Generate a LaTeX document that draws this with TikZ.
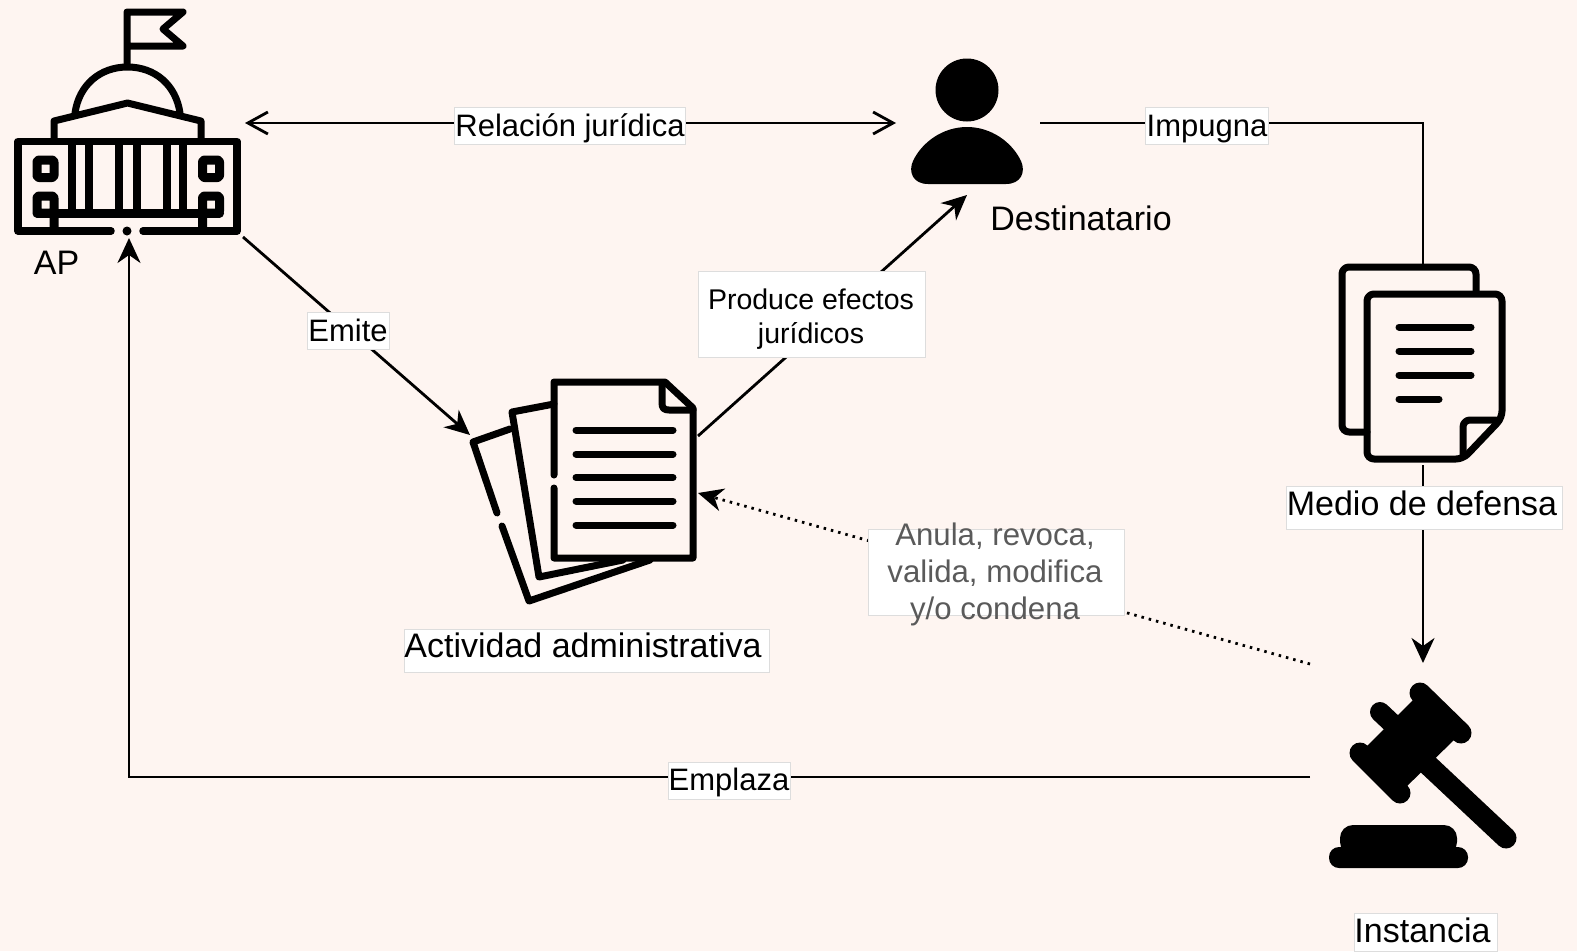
\documentclass[tikz,border=0pt]{standalone}
\usepackage{fontspec}
\setmainfont{Liberation Sans}
\usetikzlibrary{arrows.meta}
\definecolor{pagebg}{HTML}{FEF5F1}
\definecolor{boxedge}{HTML}{DDDDDD}
\definecolor{softtext}{HTML}{5A5A5A}
\tikzset{
  iconline/.style={line width=7pt, line cap=round, line join=round},
  squareline/.style={line width=9pt, line join=round, rounded corners=2pt},
  conn/.style={line width=2.8pt},
  head/.style={-{Stealth[length=25pt,width=23pt,inset=8pt]}},
  openhead/.style={{Straight Barb[length=20pt,width=22pt]}-{Straight Barb[length=20pt,width=22pt]}},
  plainlabel/.style={inner sep=0pt, font=\fontsize{31}{37}\selectfont},
  biglabel/.style={inner sep=0pt, font=\fontsize{34}{40}\selectfont},
  boxlabel/.style={plainlabel, fill=white, draw=boxedge, line width=0.8pt, align=center},
  textline/.style={text depth=8pt, text height=#1}
}
\begin{document}
\begin{tikzpicture}[x=1pt, y=-1pt]
  \useasboundingbox (0, 0) rectangle (1577, 951);
  \fill [pagebg] (0, 0) rectangle (1577, 951);

  \coordinate (apRight) at (245, 123);
  \coordinate (apLow) at (243, 237);
  \coordinate (apBottom) at (129, 238);
  \coordinate (userLeft) at (896, 123);
  \coordinate (userRight) at (1040, 123);
  \coordinate (userBottom) at (967, 195);
  \coordinate (actLeft) at (470, 435);
  \coordinate (actRight) at (698, 436);
  \coordinate (actDots) at (698, 493);
  \coordinate (medioTop) at (1423, 266);
  \coordinate (medioBottom) at (1423, 465);
  \coordinate (instTop) at (1423, 663);
  \coordinate (instLeft) at (1310, 777);
  \coordinate (instDots) at (1310, 664);
  \coordinate (impugnaBend) at (1423, 123);
  \coordinate (emplazaBend) at (129, 777);

  \draw [conn, openhead] (apRight) -- (userLeft);
  \draw [conn, head] (apLow) -- (actLeft);
  \draw [conn, head] (actRight) -- (userBottom);
  \draw [conn] (userRight) -- (impugnaBend) -- (medioTop);
  \draw [conn, head] (medioBottom) -- (instTop);
  \draw [conn, head] (instLeft) -- (emplazaBend) -- (apBottom);
  \draw [conn, head, dash pattern=on 2.5pt off 5pt] (instDots) -- (actDots);

  \node [boxlabel, textline=28pt, minimum width=231pt, minimum height=37pt] (relacion) at (570, 126) {Relación jurídica};
  \node [boxlabel, textline=29pt, minimum width=82pt, minimum height=37pt] (emite) at (348, 331) {Emite};
  \node [boxlabel, minimum width=227pt, minimum height=86pt] (produceBox) at (811.5, 314) {};
  \node [inner sep=0pt, align=center, font=\fontsize{28.5}{34}\selectfont] (produce) at (811, 319) {Produce efectos\\jurídicos};
  \node [boxlabel, textline=28pt, minimum width=123pt, minimum height=37pt] (impugna) at (1207, 126) {Impugna};
  \node [boxlabel, biglabel, textline=23pt, minimum width=276pt, minimum height=43pt] (medio) at (1424, 507.5) {\hspace*{-4pt}Medio de defensa};
  \node [boxlabel, minimum width=256pt, minimum height=86pt] (anulaBox) at (996, 572) {};
  \node [inner sep=0pt, align=center, text=softtext, font=\fontsize{31.2}{36.6}\selectfont] (anula) at (995, 574.5) {Anula, revoca,\\valida, modifica\\y/o condena};
  \node [boxlabel, textline=28pt, minimum width=122pt, minimum height=37pt] (emplaza) at (729, 780.5) {Emplaza};
  \node [boxlabel, biglabel, textline=21pt, minimum width=365pt, minimum height=43pt] (actividad) at (586.5, 650.5) {\hspace*{-7pt}Actividad administrativa};
  \node [boxlabel, biglabel, textline=28pt, minimum width=143pt, minimum height=38pt] (instancia) at (1425.5, 932) {\hspace*{-6pt}Instancia};
  \node [biglabel] (ap) at (56.5, 263) {AP};
  \node [biglabel] (destinatario) at (1081, 218) {Destinatario};

  \draw [iconline, line width=7.5pt] (111, 231) -- (18, 231) -- (18, 141.5) -- (237, 141.5) -- (237, 231) -- (143, 231);
  \fill (127, 231) circle (4.5);
  \draw [iconline, line width=9pt] (37, 213) -- (219.5, 213);
  \foreach \colx in {72, 89, 119, 137, 167, 183} {
    \draw [iconline, line cap=butt, line width=8pt] (\colx, 141.5) -- (\colx, 213);
  }
  \draw [squareline] (37, 160) rectangle (54, 177.5);
  \draw [squareline] (202.5, 160) rectangle (219.5, 177.5);
  \draw [squareline] (53, 213) -- (37, 213) -- (37, 196) -- (54, 196) -- (54, 231);
  \draw [squareline] (204, 213) -- (219.5, 213) -- (219.5, 196) -- (202.5, 196) -- (202.5, 231);
  \draw [iconline] (54, 141) -- (54, 121) -- (127.5, 103) -- (201, 121) -- (201, 141);
  \draw [iconline] (75, 113) .. controls (79, 85) and (100, 67) .. (127.5, 67) .. controls (155, 67) and (176, 85) .. (180, 113);
  \draw [iconline] (127, 65) -- (127, 12) -- (183, 12) -- (163, 29) -- (183, 46) -- (127, 46);

  \draw [iconline] (554, 475) -- (554, 382) -- (665, 382) -- (693, 408) -- (693, 558) -- (554, 558) -- (554, 488);
  \draw [iconline] (662, 384) -- (662, 403) .. controls (662, 408) and (664, 410) .. (669, 410) -- (693, 410);
  \foreach \liney in {430, 454, 477.5, 501, 525} {
    \draw [iconline] (576, \liney) -- (673, \liney);
  }
  \draw [iconline] (554, 404) -- (512, 412) -- (539, 577) -- (623, 560);
  \draw [iconline] (510, 429) -- (473, 442) -- (497, 513);
  \draw [iconline] (502, 526) -- (529, 601) -- (650, 560);

  \draw [iconline, rounded corners=7pt] (1367, 432) -- (1342, 432) -- (1342, 267) -- (1476, 267) -- (1476, 292);
  \draw [iconline, rounded corners=7pt] (1367, 294) -- (1502, 294) -- (1502, 418) -- (1463, 459) -- (1367, 459) -- cycle;
  \draw [iconline, rounded corners=7pt] (1463, 455) -- (1463, 420) -- (1496, 420);
  \foreach \liney/\lineend in {327/1471, 351/1471, 375/1471, 399/1439} {
    \draw [iconline] (1399, \liney) -- (\lineend, \liney);
  }

  \fill (967, 90) circle (31.5);
  \fill (928, 184) .. controls (913, 184) and (908, 172) .. (913, 161) .. controls (922, 142) and (943, 127) .. (967, 127) .. controls (991, 127) and (1012, 142) .. (1021, 161) .. controls (1026, 172) and (1021, 184) .. (1006, 184) -- cycle;

  \fill (1420, 693) -- (1461, 733) -- (1400, 793) -- (1360, 753) -- cycle;
  \draw [line width=21pt, line cap=round] (1420, 693) -- (1461, 733);
  \draw [line width=21pt, line cap=round] (1360, 753) -- (1400, 793);
  \draw [line width=20pt, line cap=round] (1380, 712) -- (1397, 728);
  \draw [line width=21pt, line cap=round] (1425, 762) -- (1506, 838);
  \fill [rounded corners=13pt] (1340, 855) -- (1340, 825) -- (1457, 825) -- (1457, 855) -- cycle;
  \fill [rounded corners=10pt] (1329, 847) rectangle (1468, 868);
\end{tikzpicture}
\end{document}
